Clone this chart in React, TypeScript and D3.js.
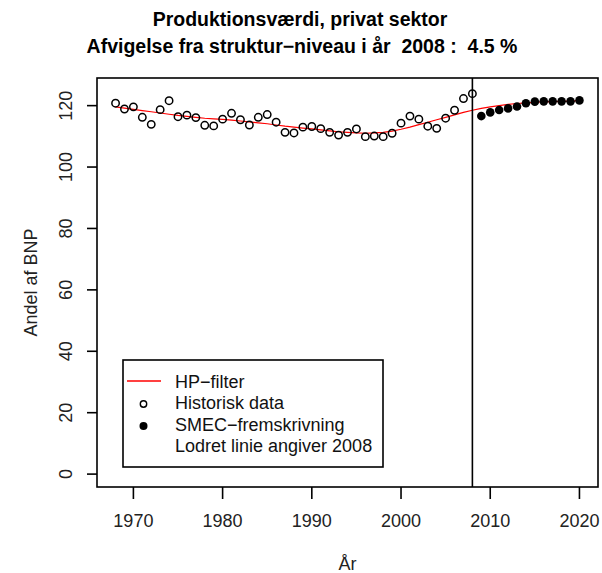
import React from 'react';
import * as d3 from 'd3';

// historic data 1968-2008
const histYears = d3.range(1968, 2009);
const histValues = [
  120.8, 118.9, 119.6, 116.2, 113.9, 118.7, 121.6, 116.4, 116.9, 116.1,
  113.6, 113.4, 115.6, 117.5, 115.4, 113.7, 116.2, 117.1, 114.6, 111.3,
  111.1, 113.0, 113.2, 112.5, 111.3, 110.4, 111.3, 112.4, 109.9, 110.1,
  109.9, 111.0, 114.3, 116.6, 115.6, 113.3, 112.6, 115.9, 118.5, 122.3,
  123.9,
];

// SMEC projection 2009-2020
const projYears = d3.range(2009, 2021);
const projValues = [116.6, 117.8, 118.6, 119.1, 119.7, 120.8, 121.3, 121.4, 121.4, 121.4, 121.4, 121.7];

// HP trend 1968-2020
const hpYears = d3.range(1968, 2021);
const hpValues = [
  119.6, 119.2, 118.8, 118.4, 118.0, 117.6, 117.2, 116.8, 116.5, 116.2,
  115.9, 115.7, 115.5, 115.3, 115.0, 114.7, 114.4, 114.1, 113.7, 113.3,
  113.0, 112.7, 112.4, 112.1, 111.8, 111.5, 111.3, 111.1, 111.0, 111.1,
  111.3, 111.7, 112.3, 113.0, 113.8, 114.6, 115.4, 116.2, 117.0, 117.8,
  118.5, 119.1, 119.6, 120.0, 120.4, 120.7, 120.9, 121.1, 121.2, 121.3,
  121.4, 121.5, 121.6,
];

const xTicks = [1970, 1980, 1990, 2000, 2010, 2020];
const yTicks = [0, 20, 40, 60, 80, 100, 120];
const cutYear = 2008;

const legendItems = ['HP\u2212filter', 'Historisk data', 'SMEC\u2212fremskrivning', 'Lodret linie angiver 2008'];

const W = 602;
const H = 573;
const left = 97, right = 598, top = 78, bottom = 487;
const font = 'Liberation Sans, Arial, Helvetica, sans-serif';

const App = () => {
  const x = d3.scaleLinear().domain([1965.92, 2022.08]).range([left, right]);
  const y = d3.scaleLinear().domain([-4.2, 129]).range([bottom, top]);

  const hpLine = d3.line<number>()
    .x((d, i) => x(hpYears[i]))
    .y(d => y(d))(hpValues);

  return (
    <svg width={W} height={H} style={{ position: 'absolute', left: 0, top: 0, background: '#fff' }}
      fontFamily={font}>
      {/* title */}
      <text x={300} y={26} textAnchor="middle" fontSize={19.5} fontWeight="bold" fill="#000">
        Produktionsværdi, privat sektor
      </text>
      <text x={302} y={53} textAnchor="middle" fontSize={19.5} fontWeight="bold" fill="#000"
        style={{ whiteSpace: 'pre' }}>
        {'Afvigelse fra struktur\u2212niveau i år  2008 :  4.5 %'}
      </text>

      {/* hp line */}
      <path d={hpLine || ''} fill="none" stroke="#ff0000" strokeWidth={1.2} />

      {/* historic points */}
      {histValues.map((v, i) => (
        <circle key={'h' + i} cx={x(histYears[i])} cy={y(v)} r={3.7}
          fill="none" stroke="#000" strokeWidth={1.5} />
      ))}

      {/* projection points */}
      {projValues.map((v, i) => (
        <circle key={'p' + i} cx={x(projYears[i])} cy={y(v)} r={4.3} fill="#000" />
      ))}

      {/* vertical line at 2008 */}
      <line x1={x(cutYear)} x2={x(cutYear)} y1={top} y2={bottom} stroke="#000" strokeWidth={1.6} />

      {/* frame */}
      <rect x={left} y={top} width={right - left} height={bottom - top} fill="none" stroke="#000" strokeWidth={1.6} />

      {/* x axis */}
      {xTicks.map(t => (
        <g key={'x' + t}>
          <line x1={x(t)} x2={x(t)} y1={bottom} y2={bottom + 12} stroke="#000" strokeWidth={1.6} />
          <text x={x(t)} y={527} textAnchor="middle" fontSize={18} fill="#222">{t}</text>
        </g>
      ))}
      <text x={(left + right) / 2} y={570} textAnchor="middle" fontSize={18} fill="#222">År</text>

      {/* y axis */}
      {yTicks.map(t => (
        <g key={'y' + t}>
          <line x1={left - 10} x2={left} y1={y(t)} y2={y(t)} stroke="#000" strokeWidth={1.6} />
          <text transform={`translate(72,${y(t)}) rotate(-90)`} textAnchor="middle" fontSize={18} fill="#222">{t}</text>
        </g>
      ))}
      <text transform={`translate(37,${(top + bottom) / 2}) rotate(-90)`} textAnchor="middle" fontSize={18} fill="#222">
        Andel af BNP
      </text>

      {/* legend */}
      <g>
        <rect x={123} y={360} width={260} height={107} fill="#fff" stroke="#000" strokeWidth={1.6} />
        <line x1={127} x2={161} y1={381} y2={381} stroke="#ff0000" strokeWidth={1.5} />
        <circle cx={143.5} cy={404} r={3.2} fill="none" stroke="#000" strokeWidth={1.4} />
        <circle cx={143.5} cy={426} r={4} fill="#000" />
        {legendItems.map((s, i) => (
          <text key={s} x={175} y={388 + i * 21.3} fontSize={18} fill="#111">{s}</text>
        ))}
      </g>
    </svg>
  );
};

export default App;
